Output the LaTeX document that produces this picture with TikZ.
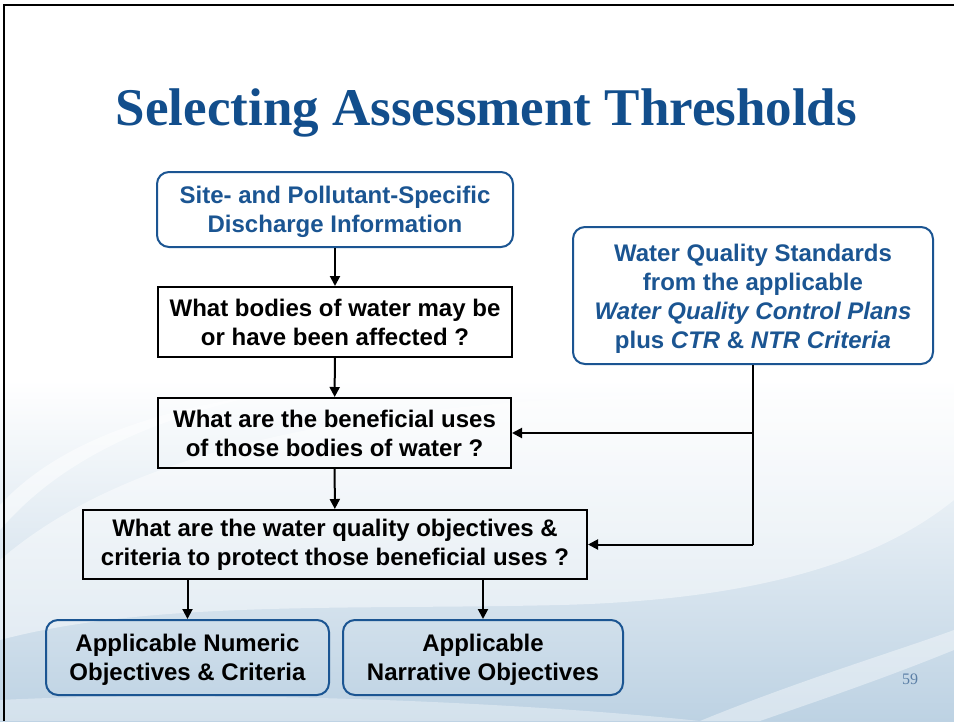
\documentclass[tikz,border=0pt]{standalone}
\usepackage{fontspec}
\setmainfont{Liberation Sans}
\newfontfamily\titlefont{Liberation Serif}
\usetikzlibrary{arrows.meta,calc}
\definecolor{slideblue}{HTML}{124E8C}
\definecolor{boxblue}{HTML}{1B5592}
\definecolor{bgblue}{HTML}{BDD2E3}
\definecolor{pagenum}{HTML}{5B7FA6}
\newcommand\btext[2]{\raisebox{0pt}[\dimexpr\height+#1\relax]{\begin{tabular}{@{}c@{}}#2\end{tabular}}}
\begin{document}
\begin{tikzpicture}[x=1pt,y=-1pt,
  qbox/.style={draw=black, line width=2pt, align=center, inner sep=0pt,
    font=\fontsize{24}{29}\selectfont\bfseries},
  bbox/.style={draw=boxblue, line width=2pt, rounded corners=12pt, align=center, inner sep=0pt,
    font=\fontsize{24}{29}\selectfont\bfseries},
  conn/.style={line width=2pt, -{Triangle[length=10pt,width=10pt]}},
  wave/.style={white, opacity=0.45},
]
\useasboundingbox (0,0) rectangle (954,721);
% background
\fill[white] (0,0) rectangle (954,721);
\shade[top color=white, bottom color=bgblue] (0,380) rectangle (954,721);
\fill[wave] (0,560) .. controls (150,430) and (450,380) .. (954,395)
  -- (954,500) .. controls (880,560) and (760,600) .. (560,605)
  .. controls (350,610) and (150,600) .. (0,640) -- cycle;
\fill[white, opacity=0.5] (0,505) .. controls (60,440) and (160,410) .. (260,395)
  .. controls (150,420) and (60,460) .. (0,530) -- cycle;
\fill[white, opacity=0.4] (700,721) .. controls (800,680) and (900,650) .. (954,630)
  -- (954,650) .. controls (880,680) and (820,700) .. (760,721) -- cycle;
\fill[white, opacity=0.35] (0,700) .. controls (200,690) and (500,700) .. (700,721) -- (0,721) -- cycle;
% slide frame
\draw[line width=2.5pt] (4,721) -- (4,5) -- (954,5);
% title
\node[anchor=base, text=slideblue, font=\titlefont\fontsize{53}{60}\selectfont\bfseries, inner sep=0pt]
  (title) at (486.5,125) {Selecting Assessment Thresholds};
% boxes
\node[bbox, text=boxblue, minimum width=356pt, minimum height=75pt] (src) at (335,209.5)
  {\btext{6pt}{Site- and Pollutant-Specific\\Discharge Information}};
\node[qbox, minimum width=354pt, minimum height=70pt] (q1) at (335,322)
  {What bodies of water may be\\or have been affected ?};
\node[qbox, minimum width=353pt, minimum height=70pt] (q2) at (334.5,433)
  {What are the beneficial uses\\of those bodies of water ?};
\node[qbox, minimum width=504pt, minimum height=69pt] (q3) at (335,544.5)
  {What are the water quality objectives \&\\criteria to protect those beneficial uses ?};
\node[bbox, minimum width=283pt, minimum height=75pt] (num) at (187.5,657.5)
  {\btext{5pt}{Applicable Numeric\\Objectives \& Criteria}};
\node[bbox, minimum width=280pt, minimum height=75pt] (nar) at (483,657.5)
  {\btext{5pt}{Applicable\\Narrative Objectives}};
\node[bbox, text=boxblue, minimum width=360pt, minimum height=137pt] (wqs) at (753,295.5)
  {\btext{8pt}{Water Quality Standards\\from the applicable\\\textit{Water Quality Control Plans}\\plus \textit{CTR} \& \textit{NTR Criteria}}};
% page number
\node[text=pagenum, font=\titlefont\fontsize{16}{18}\selectfont, anchor=base] (pg) at (910,684) {59};
% connectors
\draw[conn] (src) -- (q1);
\draw[conn] (q1) -- (q2);
\draw[conn] (q2) -- (q3);
\draw[conn] (q3.south -| num) -- (num);
\draw[conn] (q3.south -| nar) -- (nar);
\coordinate (turn) at (wqs.south |- q3.east);
\draw[line width=2pt] (wqs.south) -- (turn);
\draw[conn] (wqs.south |- q2.east) -- (q2.east);
\draw[conn] (turn) -- (q3.east);
\end{tikzpicture}
\end{document}
